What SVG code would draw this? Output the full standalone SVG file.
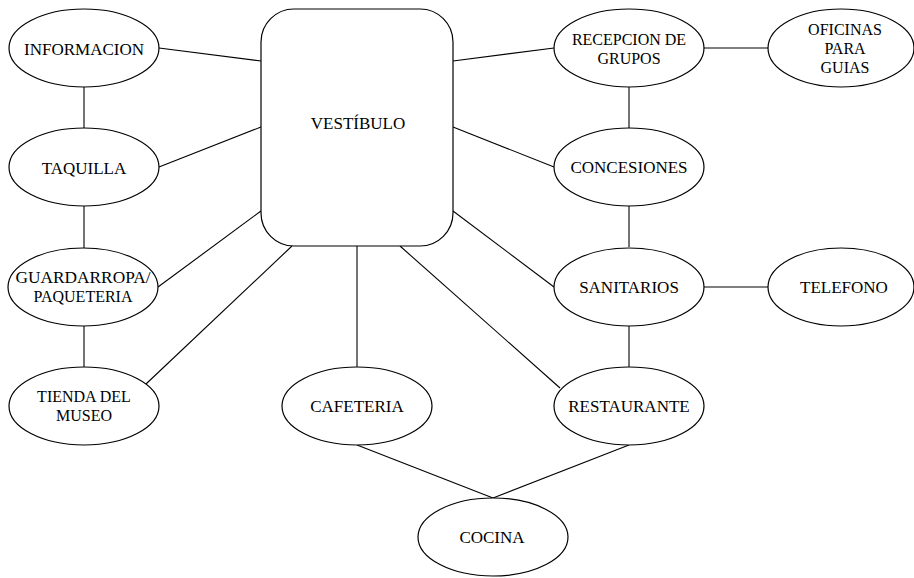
<svg xmlns="http://www.w3.org/2000/svg" width="914" height="578" viewBox="0 0 914 578">
<style>
.n{fill:#fff;stroke:#000;stroke-width:1.2}
.c line{stroke:#000;stroke-width:1.1}
text{font-family:"Liberation Serif","DejaVu Serif",serif;font-size:17px;fill:#000;text-anchor:middle}
.m{font-size:16px}
</style>
<rect width="914" height="578" fill="#fff"/>
<g class="c" id="connectors">
<line x1="159" y1="48" x2="261" y2="61"/>
<line x1="159" y1="167" x2="261" y2="127"/>
<line x1="158" y1="287" x2="261" y2="211"/>
<line x1="146" y1="384" x2="292" y2="246"/>
<line x1="84" y1="87" x2="84" y2="128"/>
<line x1="84" y1="205" x2="84" y2="248"/>
<line x1="84" y1="326" x2="84" y2="367"/>
<line x1="357" y1="246" x2="357" y2="367"/>
<line x1="400" y1="246" x2="560" y2="388"/>
<line x1="453" y1="211" x2="554" y2="287"/>
<line x1="453" y1="127" x2="554" y2="167"/>
<line x1="453" y1="61" x2="554" y2="48"/>
<line x1="704" y1="48" x2="768" y2="48"/>
<line x1="704" y1="287" x2="768" y2="287"/>
<line x1="629" y1="87" x2="629" y2="128"/>
<line x1="629" y1="205" x2="629" y2="247"/>
<line x1="629" y1="326" x2="629" y2="367"/>
<line x1="357" y1="445" x2="493" y2="498"/>
<line x1="629" y1="445" x2="493" y2="498"/>
</g>
<g id="vestibulo"><rect class="n" x="261" y="9" width="192" height="237" rx="33"/><text x="358" y="129">VESTÍBULO</text></g>
<g id="informacion"><ellipse class="n" cx="84" cy="48" rx="75" ry="39"/><text x="84" y="55">INFORMACION</text></g>
<g id="taquilla"><ellipse class="n" cx="84" cy="167" rx="75" ry="39"/><text x="84" y="174">TAQUILLA</text></g>
<g id="guardarropa"><ellipse class="n" cx="83" cy="287" rx="75" ry="39"/><text class="m" x="83" y="283" textLength="135" lengthAdjust="spacingAndGlyphs">GUARDARROPA/</text><text class="m" x="83" y="302">PAQUETERIA</text></g>
<g id="tienda"><ellipse class="n" cx="84" cy="406" rx="75" ry="39"/><text class="m" x="84" y="402">TIENDA DEL</text><text class="m" x="84" y="421">MUSEO</text></g>
<g id="cafeteria"><ellipse class="n" cx="357" cy="406" rx="75" ry="39"/><text x="357" y="412">CAFETERIA</text></g>
<g id="recepcion"><ellipse class="n" cx="629" cy="48" rx="75" ry="39"/><text class="m" x="629" y="45">RECEPCION DE</text><text class="m" x="629" y="64">GRUPOS</text></g>
<g id="oficinas"><ellipse class="n" cx="841" cy="48" rx="73" ry="39"/><text class="m" x="845" y="35">OFICINAS</text><text class="m" x="845" y="54">PARA</text><text class="m" x="845" y="73">GUIAS</text></g>
<g id="concesiones"><ellipse class="n" cx="629" cy="167" rx="75" ry="39"/><text x="629" y="173">CONCESIONES</text></g>
<g id="sanitarios"><ellipse class="n" cx="629" cy="287" rx="75" ry="39"/><text x="629" y="293">SANITARIOS</text></g>
<g id="telefono"><ellipse class="n" cx="841" cy="287" rx="73" ry="39"/><text x="844" y="293">TELEFONO</text></g>
<g id="restaurante"><ellipse class="n" cx="629" cy="406" rx="75" ry="39"/><text x="629" y="412">RESTAURANTE</text></g>
<g id="cocina"><ellipse class="n" cx="493" cy="537" rx="75" ry="39"/><text x="492" y="543">COCINA</text></g>
</svg>
